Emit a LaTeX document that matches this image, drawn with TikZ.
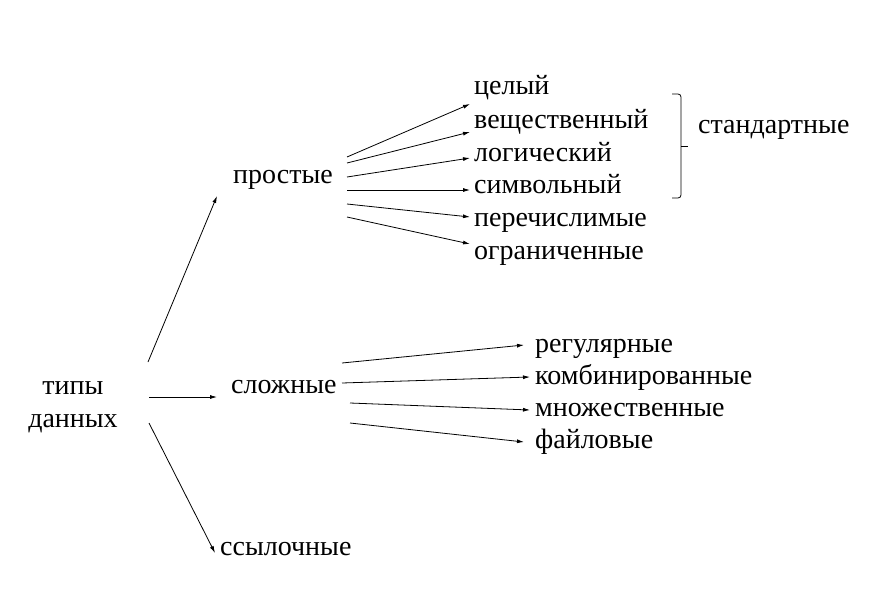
\documentclass[tikz,border=0pt]{standalone}
\usepackage{fontspec}
\setmainfont{Liberation Serif}
\usetikzlibrary{arrows.meta}

\begin{document}
\begin{tikzpicture}[x=1pt, y=-1pt,
    every node/.style={font=\fontsize{28}{33}\selectfont, inner sep=0pt},
    item/.style={anchor=base west},
    arr/.style={-{Latex[length=7pt,width=4pt]}, line width=0.8pt}]
        \useasboundingbox (0,0) rectangle (873,600);

        % Root
        \node[align=center] (types) at (73,407) {типы\\данных};

        % First level
        \node[item] (simple) at (233,183) {простые};
        \node[item] (compound) at (231,393) {сложные};
        \node[item] (pointer) at (220,555) {ссылочные};

        % Simple types
        \node[item] (int) at (474,94.5) {целый};
        \node[item] (real) at (474,128.5) {вещественный};
        \node[item] (bool) at (474,161.5) {логический};
        \node[item] (char) at (474,193.5) {символьный};
        \node[item] (enum) at (474,226.5) {перечислимые};
        \node[item] (range) at (474,259.5) {ограниченные};

        % Standard bracket
        \draw[line width=0.8pt, rounded corners=3pt] (672,94) -- (681,94) -- (681,198) -- (672,198);
        \draw[line width=0.8pt] (681,146) -- (688,146);
        \node[item] (std) at (698,133) {стандартные};

        % Compound types
        \node[item] (array) at (535,352) {регулярные};
        \node[item] (record) at (535,384) {комбинированные};
        \node[item] (set) at (535,416) {множественные};
        \node[item] (file) at (535,448) {файловые};

        % Root arrows
        \draw[arr] ([shift={(75,-45)}]types.center) -- ([shift={(-16,13)}]simple.base west);
        \draw[arr] ([shift={(76,-10)}]types.center) -- ([shift={(-14,4)}]compound.base west);
        \draw[arr] ([shift={(76,16)}]types.center) -- ([shift={(-5,-2)}]pointer.base west);

        % Simple arrows
        \draw[arr] ([shift={(114,-26)}]simple.base west) -- ([shift={(-4,9.5)}]int.base west);
        \draw[arr] ([shift={(114,-20)}]simple.base west) -- ([shift={(-4,3.5)}]real.base west);
        \draw[arr] ([shift={(114,-6)}]simple.base west) -- ([shift={(-4,-3.5)}]bool.base west);
        \draw[arr] ([shift={(114,7)}]simple.base west) -- ([shift={(-4,-3.5)}]char.base west);
        \draw[arr] ([shift={(114,21)}]simple.base west) -- ([shift={(-4,-9.5)}]enum.base west);
        \draw[arr] ([shift={(114,34)}]simple.base west) -- ([shift={(-4,-15.5)}]range.base west);

        % Compound arrows
        \draw[arr] ([shift={(111,-30)}]compound.base west) -- ([shift={(-11,-7)}]array.base west);
        \draw[arr] ([shift={(111,-10)}]compound.base west) -- ([shift={(-5,-7)}]record.base west);
        \draw[arr] ([shift={(119,10)}]compound.base west) -- ([shift={(-5,-6)}]set.base west);
        \draw[arr] ([shift={(119,30)}]compound.base west) -- ([shift={(-11,-6)}]file.base west);
    \end{tikzpicture}
\end{document}
